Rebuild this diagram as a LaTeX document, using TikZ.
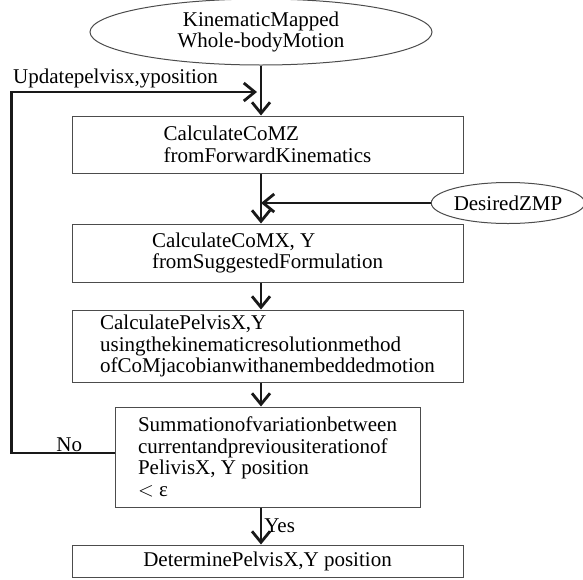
\documentclass[tikz,border=0pt]{standalone}
\usepackage{fontspec}
\setmainfont{Liberation Serif}
\usetikzlibrary{shapes,arrows.meta}

\tikzset{
	procbox/.style={draw=black!70, line width=1pt, align=left, minimum width=391, inner sep=0pt},
	oval/.style={ellipse, draw=black!70, line width=1pt, align=center, inner sep=0pt},
	flow/.style={line width=2.8pt, draw=black!90, ->, >={Straight Barb[length=11pt,width=18pt]}}
}

\begin{document}
\begin{tikzpicture}[x=1pt, y=-1pt, font=\fontsize{21}{21.5}\selectfont]
		\useasboundingbox (0,0) rectangle (583,579);

		% nodes
		\node[oval, minimum width=342, minimum height=66] (start) at (261,32) {KinematicMapped\\Whole-bodyMotion};
		\node[procbox, minimum height=57] (calcz) at (267.5,144.5) {CalculateCoMZ\\fromForwardKinematics};
		\node[oval, minimum width=150, minimum height=41] (zmp) at (508,203) {DesiredZMP};
		\node[procbox, minimum height=58] (calcxy) at (267.5,253) {CalculateCoMX, Y\\fromSuggestedFormulation};
		\node[procbox, minimum height=72] (pelvis) at (267.5,346) {CalculatePelvisX,Y\\usingthekinematicresolutionmethod\\ofCoMjacobianwithanembeddedmotion};
		\node[procbox, minimum width=305, minimum height=100] (check) at (267.5,457) {Summationofvariationbetween\\currentandpreviousiterationof\\PelivisX, Y position\\$<$ ε};
		\node[procbox, minimum height=32] (final) at (267.5,561) {DeterminePelvisX,Y position};

		\node[anchor=west, inner sep=0pt] (updlbl) at (13,78) {Updatepelvisx,yposition};
		\coordinate (loopin) at (257,92);

		% connectors
		\draw[flow] (start.south) -- (start.south |- calcz.north);
		\draw[flow] (start.south |- calcz.south) -- (start.south |- calcxy.north);
		\draw[flow] (zmp.west) -- (zmp.west -| start.south);
		\draw[flow] (start.south |- calcxy.south) -- (start.south |- pelvis.north);
		\draw[flow] (start.south |- pelvis.south) -- (start.south |- check.north);
		\draw[flow] (start.south |- check.south) -- (start.south |- final.north) node[pos=0.5, right, inner sep=2pt] (yeslbl) {Yes};

		\draw[flow] ([yshift=4pt]check.west) -- ++(-103,0) node[pos=0.44, above, inner sep=0pt] (nolbl) {No} |- (loopin);
	\end{tikzpicture}
\end{document}
